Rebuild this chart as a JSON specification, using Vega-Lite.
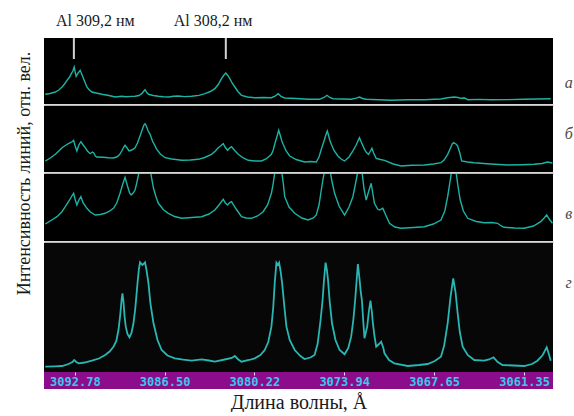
{
  "$schema": "https://vega.github.io/schema/vega-lite/v6.json",
  "background": "white",
  "padding": {"left": 14, "top": 12, "right": 0, "bottom": 0},
  "spacing": 2,
  "bounds": "flush",
  "config": {
    "view": {"stroke": null},
    "axis": {"grid": false},
    "concat": {"spacing": 2}
  },
  "datasets": {
    "a": [
      {"wl":3094.85,"i":9.7},{"wl":3094.6,"i":10.2},{"wl":3094.4,"i":11},{"wl":3094.15,"i":12},{"wl":3093.9,"i":14},{"wl":3093.68,"i":17},{"wl":3093.5,"i":20},{"wl":3093.33,"i":23.7},{"wl":3093.15,"i":27},{"wl":3093.03,"i":30.3},{"wl":3092.92,"i":33},{"wl":3092.83,"i":37},{"wl":3092.76,"i":32},{"wl":3092.69,"i":27.7},{"wl":3092.55,"i":31},{"wl":3092.41,"i":33.7},{"wl":3092.3,"i":30},{"wl":3092.17,"i":25.3},{"wl":3092.05,"i":21},{"wl":3091.94,"i":17},{"wl":3091.8,"i":14.5},{"wl":3091.59,"i":12},{"wl":3091.3,"i":11},{"wl":3090.89,"i":9.7},{"wl":3090.4,"i":8.5},{"wl":3089.96,"i":7},{"wl":3089.5,"i":7.8},{"wl":3089.2,"i":7.2},{"wl":3088.8,"i":7.6},{"wl":3088.57,"i":7.7},{"wl":3088.3,"i":8.5},{"wl":3088.1,"i":10.3},{"wl":3087.95,"i":13},{"wl":3087.87,"i":14.3},{"wl":3087.75,"i":11.5},{"wl":3087.63,"i":9.7},{"wl":3087.3,"i":8.5},{"wl":3086.94,"i":7.7},{"wl":3086.6,"i":7.2},{"wl":3086.2,"i":7},{"wl":3085.9,"i":7.8},{"wl":3085.54,"i":8},{"wl":3085.1,"i":7.4},{"wl":3084.61,"i":7.7},{"wl":3084.1,"i":8.6},{"wl":3083.68,"i":10.3},{"wl":3083.3,"i":12.5},{"wl":3082.99,"i":15.3},{"wl":3082.75,"i":19.5},{"wl":3082.52,"i":25.3},{"wl":3082.35,"i":29},{"wl":3082.22,"i":31},{"wl":3082.08,"i":28.5},{"wl":3081.94,"i":25.3},{"wl":3081.78,"i":21},{"wl":3081.59,"i":17},{"wl":3081.35,"i":12},{"wl":3081.12,"i":8.7},{"wl":3080.7,"i":7},{"wl":3080.19,"i":6.3},{"wl":3079.6,"i":6.5},{"wl":3079.03,"i":6.3},{"wl":3078.75,"i":8},{"wl":3078.56,"i":10.3},{"wl":3078.35,"i":7.5},{"wl":3078.1,"i":6},{"wl":3077.3,"i":5.5},{"wl":3076.47,"i":4.7},{"wl":3075.66,"i":4.7},{"wl":3075.35,"i":6.5},{"wl":3075.14,"i":8.7},{"wl":3074.95,"i":6.5},{"wl":3074.72,"i":5.3},{"wl":3074.1,"i":5},{"wl":3073.45,"i":4.7},{"wl":3073.1,"i":5.8},{"wl":3072.87,"i":7},{"wl":3072.65,"i":5.5},{"wl":3072.4,"i":4.7},{"wl":3071.5,"i":4.2},{"wl":3070.66,"i":3.7},{"wl":3069.5,"i":4.2},{"wl":3068.33,"i":4.3},{"wl":3067.6,"i":4.8},{"wl":3067.17,"i":5},{"wl":3066.7,"i":6.2},{"wl":3066.24,"i":7},{"wl":3065.97,"i":6.5},{"wl":3065.77,"i":5.7},{"wl":3065.5,"i":6},{"wl":3065.3,"i":4.3},{"wl":3064.5,"i":4.6},{"wl":3063.68,"i":4.3},{"wl":3062.5,"i":4.4},{"wl":3061.35,"i":4.7},{"wl":3060.4,"i":5},{"wl":3059.49,"i":5.3}
    ],
    "b": [
      {"wl":3094.85,"i":11},{"wl":3094.5,"i":14},{"wl":3094.15,"i":17.7},{"wl":3093.9,"i":21},{"wl":3093.68,"i":24.3},{"wl":3093.4,"i":27},{"wl":3093.1,"i":29.3},{"wl":3092.95,"i":30.5},{"wl":3092.87,"i":31.7},{"wl":3092.76,"i":26},{"wl":3092.64,"i":21},{"wl":3092.5,"i":27},{"wl":3092.36,"i":30.3},{"wl":3092.2,"i":27},{"wl":3092.06,"i":24.3},{"wl":3091.9,"i":21},{"wl":3091.71,"i":18.3},{"wl":3091.55,"i":20},{"wl":3091.47,"i":19.3},{"wl":3091.35,"i":16},{"wl":3091.24,"i":15},{"wl":3090.8,"i":14.8},{"wl":3090.42,"i":14.3},{"wl":3090.1,"i":14},{"wl":3089.85,"i":15},{"wl":3089.65,"i":17.5},{"wl":3089.5,"i":21},{"wl":3089.38,"i":24.5},{"wl":3089.27,"i":26.7},{"wl":3089.13,"i":24},{"wl":3088.99,"i":21},{"wl":3088.8,"i":22},{"wl":3088.57,"i":24.3},{"wl":3088.4,"i":29},{"wl":3088.22,"i":36},{"wl":3088.05,"i":43},{"wl":3087.95,"i":47},{"wl":3087.87,"i":48.3},{"wl":3087.78,"i":46},{"wl":3087.65,"i":41},{"wl":3087.52,"i":37.7},{"wl":3087.35,"i":31},{"wl":3087.05,"i":22.7},{"wl":3086.8,"i":18},{"wl":3086.47,"i":14.3},{"wl":3086.0,"i":13},{"wl":3085.31,"i":11.7},{"wl":3084.7,"i":12},{"wl":3084.14,"i":12.7},{"wl":3083.7,"i":14.5},{"wl":3083.22,"i":17.7},{"wl":3082.95,"i":21},{"wl":3082.75,"i":24.3},{"wl":3082.55,"i":26.5},{"wl":3082.4,"i":28.3},{"wl":3082.25,"i":24.5},{"wl":3082.1,"i":21.7},{"wl":3081.95,"i":24},{"wl":3081.82,"i":25.3},{"wl":3081.6,"i":21.5},{"wl":3081.35,"i":17.7},{"wl":3081.0,"i":14},{"wl":3080.65,"i":11.7},{"wl":3080.2,"i":11},{"wl":3079.73,"i":11},{"wl":3079.4,"i":13},{"wl":3079.2,"i":15.5},{"wl":3079.03,"i":17.7},{"wl":3078.9,"i":22},{"wl":3078.8,"i":27.7},{"wl":3078.65,"i":35},{"wl":3078.52,"i":41.7},{"wl":3078.4,"i":36},{"wl":3078.3,"i":31},{"wl":3078.21,"i":27.7},{"wl":3078.0,"i":21},{"wl":3077.75,"i":16},{"wl":3077.3,"i":12.5},{"wl":3076.71,"i":10},{"wl":3076.3,"i":10.5},{"wl":3075.89,"i":10},{"wl":3075.7,"i":15},{"wl":3075.54,"i":22.7},{"wl":3075.35,"i":31},{"wl":3075.2,"i":38},{"wl":3075.12,"i":41},{"wl":3075.02,"i":36},{"wl":3074.95,"i":32},{"wl":3074.84,"i":27.7},{"wl":3074.65,"i":21.5},{"wl":3074.38,"i":16},{"wl":3074.15,"i":13},{"wl":3073.91,"i":11},{"wl":3073.6,"i":15},{"wl":3073.33,"i":21},{"wl":3073.1,"i":27},{"wl":3072.95,"i":32},{"wl":3072.87,"i":34.3},{"wl":3072.75,"i":30},{"wl":3072.62,"i":26},{"wl":3072.52,"i":22.7},{"wl":3072.38,"i":19.5},{"wl":3072.24,"i":17.7},{"wl":3072.1,"i":21},{"wl":3072.0,"i":23.7},{"wl":3071.88,"i":19},{"wl":3071.7,"i":13.7},{"wl":3071.4,"i":12.5},{"wl":3071.12,"i":11.7},{"wl":3070.5,"i":8},{"wl":3069.96,"i":6},{"wl":3069.2,"i":6.8},{"wl":3068.33,"i":7},{"wl":3067.7,"i":8},{"wl":3067.17,"i":9.3},{"wl":3066.95,"i":12},{"wl":3066.7,"i":17.7},{"wl":3066.5,"i":24},{"wl":3066.38,"i":28},{"wl":3066.28,"i":29.3},{"wl":3066.12,"i":28},{"wl":3066.0,"i":26},{"wl":3065.85,"i":19},{"wl":3065.72,"i":11},{"wl":3065.3,"i":10},{"wl":3064.84,"i":9.3},{"wl":3063.7,"i":8},{"wl":3062.51,"i":7},{"wl":3061.5,"i":7.3},{"wl":3060.66,"i":7.7},{"wl":3060.1,"i":8.5},{"wl":3059.72,"i":10},{"wl":3059.37,"i":9}
    ],
    "v": [
      {"wl":3094.85,"i":17},{"wl":3094.4,"i":21},{"wl":3094.03,"i":24.3},{"wl":3093.7,"i":29},{"wl":3093.45,"i":34.3},{"wl":3093.15,"i":41},{"wl":3092.95,"i":46},{"wl":3092.87,"i":47.7},{"wl":3092.75,"i":41},{"wl":3092.64,"i":36},{"wl":3092.5,"i":41},{"wl":3092.36,"i":44.3},{"wl":3092.2,"i":38},{"wl":3091.94,"i":32.7},{"wl":3091.7,"i":29},{"wl":3091.36,"i":26},{"wl":3091.0,"i":26.5},{"wl":3090.66,"i":27.7},{"wl":3090.4,"i":29.5},{"wl":3090.08,"i":32.7},{"wl":3089.85,"i":38},{"wl":3089.62,"i":47.7},{"wl":3089.45,"i":56},{"wl":3089.27,"i":63.7},{"wl":3089.1,"i":55},{"wl":3088.95,"i":48},{"wl":3088.85,"i":46},{"wl":3088.7,"i":48},{"wl":3088.57,"i":51},{"wl":3088.45,"i":58},{"wl":3088.33,"i":66},{"wl":3088.2,"i":80},{"wl":3087.87,"i":95},{"wl":3087.6,"i":80},{"wl":3087.45,"i":66},{"wl":3087.28,"i":52.7},{"wl":3087.1,"i":44},{"wl":3086.94,"i":37.7},{"wl":3086.6,"i":31.5},{"wl":3086.24,"i":27.7},{"wl":3085.8,"i":24.5},{"wl":3085.31,"i":22.7},{"wl":3084.6,"i":23.5},{"wl":3083.91,"i":24.3},{"wl":3083.4,"i":27},{"wl":3082.99,"i":31},{"wl":3082.7,"i":36},{"wl":3082.4,"i":41.7},{"wl":3082.25,"i":38},{"wl":3082.1,"i":36},{"wl":3081.95,"i":38.5},{"wl":3081.82,"i":39.3},{"wl":3081.5,"i":32},{"wl":3081.12,"i":24.3},{"wl":3080.8,"i":23},{"wl":3080.43,"i":22.7},{"wl":3080.0,"i":25},{"wl":3079.61,"i":29.3},{"wl":3079.3,"i":36},{"wl":3079.03,"i":47.7},{"wl":3078.9,"i":58},{"wl":3078.8,"i":68},{"wl":3078.52,"i":90},{"wl":3078.3,"i":68},{"wl":3078.2,"i":58},{"wl":3078.1,"i":44.3},{"wl":3077.8,"i":34},{"wl":3077.4,"i":27.7},{"wl":3076.9,"i":23},{"wl":3076.47,"i":21},{"wl":3076.1,"i":23},{"wl":3075.89,"i":26},{"wl":3075.7,"i":36},{"wl":3075.54,"i":51},{"wl":3075.42,"i":62},{"wl":3075.31,"i":70},{"wl":3075.12,"i":90},{"wl":3074.92,"i":70},{"wl":3074.8,"i":60},{"wl":3074.61,"i":47.7},{"wl":3074.3,"i":35},{"wl":3073.91,"i":26},{"wl":3073.6,"i":34},{"wl":3073.33,"i":44.3},{"wl":3073.15,"i":57},{"wl":3072.98,"i":70},{"wl":3072.85,"i":85},{"wl":3072.7,"i":70},{"wl":3072.55,"i":52},{"wl":3072.4,"i":41},{"wl":3072.22,"i":50},{"wl":3072.05,"i":57.7},{"wl":3071.93,"i":47},{"wl":3071.82,"i":37.7},{"wl":3071.6,"i":32},{"wl":3071.47,"i":31},{"wl":3071.24,"i":32.7},{"wl":3071.0,"i":25},{"wl":3070.77,"i":17.7},{"wl":3070.4,"i":14},{"wl":3069.96,"i":12.7},{"wl":3069.1,"i":13.5},{"wl":3068.33,"i":14.3},{"wl":3067.7,"i":17},{"wl":3067.17,"i":21},{"wl":3066.9,"i":30},{"wl":3066.7,"i":44.3},{"wl":3066.55,"i":58},{"wl":3066.42,"i":70},{"wl":3066.28,"i":85},{"wl":3066.12,"i":70},{"wl":3065.98,"i":55},{"wl":3065.82,"i":41},{"wl":3065.6,"i":30},{"wl":3065.3,"i":22.7},{"wl":3064.7,"i":19.5},{"wl":3064.15,"i":18.3},{"wl":3063.6,"i":18.5},{"wl":3063.21,"i":17.7},{"wl":3062.95,"i":15},{"wl":3062.75,"i":13.7},{"wl":3062.0,"i":13},{"wl":3061.35,"i":12.7},{"wl":3060.7,"i":15},{"wl":3060.19,"i":19.3},{"wl":3059.95,"i":23},{"wl":3059.77,"i":26},{"wl":3059.6,"i":22},{"wl":3059.37,"i":17.7}
    ],
    "g": [
      {"wl":3094.85,"i":5.3},{"wl":3094.2,"i":5.6},{"wl":3093.68,"i":6},{"wl":3093.22,"i":8},{"wl":3092.95,"i":10},{"wl":3092.83,"i":12},{"wl":3092.68,"i":10},{"wl":3092.52,"i":8.7},{"wl":3092.1,"i":9.5},{"wl":3091.59,"i":11.3},{"wl":3091.1,"i":13.5},{"wl":3090.66,"i":17},{"wl":3090.35,"i":20.5},{"wl":3090.08,"i":25.3},{"wl":3089.88,"i":31},{"wl":3089.73,"i":42},{"wl":3089.6,"i":58},{"wl":3089.5,"i":74},{"wl":3089.45,"i":78.7},{"wl":3089.38,"i":70},{"wl":3089.3,"i":55},{"wl":3089.22,"i":45.3},{"wl":3089.1,"i":38},{"wl":3088.96,"i":34.7},{"wl":3088.82,"i":39},{"wl":3088.68,"i":48.7},{"wl":3088.55,"i":64},{"wl":3088.4,"i":88.7},{"wl":3088.3,"i":103},{"wl":3088.22,"i":109.7},{"wl":3088.05,"i":107},{"wl":3087.87,"i":109.7},{"wl":3087.77,"i":102},{"wl":3087.63,"i":88.7},{"wl":3087.5,"i":69},{"wl":3087.28,"i":48.7},{"wl":3087.0,"i":32},{"wl":3086.71,"i":22},{"wl":3086.3,"i":16.5},{"wl":3085.78,"i":13.7},{"wl":3085.2,"i":12.3},{"wl":3084.61,"i":11.3},{"wl":3083.91,"i":12.7},{"wl":3083.4,"i":11.5},{"wl":3082.99,"i":10.3},{"wl":3082.3,"i":12.5},{"wl":3081.8,"i":14},{"wl":3081.59,"i":16},{"wl":3081.35,"i":12.5},{"wl":3081.12,"i":10.3},{"wl":3080.6,"i":12},{"wl":3080.19,"i":13.7},{"wl":3079.8,"i":17},{"wl":3079.5,"i":22},{"wl":3079.25,"i":30},{"wl":3079.03,"i":45.3},{"wl":3078.9,"i":65},{"wl":3078.8,"i":88.7},{"wl":3078.68,"i":109.3},{"wl":3078.58,"i":107},{"wl":3078.49,"i":109.3},{"wl":3078.38,"i":100},{"wl":3078.28,"i":88.7},{"wl":3078.1,"i":62},{"wl":3077.98,"i":45.3},{"wl":3077.75,"i":32},{"wl":3077.4,"i":22},{"wl":3077.0,"i":16},{"wl":3076.71,"i":13},{"wl":3076.3,"i":14.5},{"wl":3076.01,"i":17},{"wl":3075.8,"i":28},{"wl":3075.59,"i":52},{"wl":3075.45,"i":72},{"wl":3075.35,"i":92},{"wl":3075.24,"i":109.3},{"wl":3075.15,"i":102},{"wl":3075.07,"i":92},{"wl":3074.95,"i":70},{"wl":3074.79,"i":48.7},{"wl":3074.55,"i":32},{"wl":3074.26,"i":22},{"wl":3073.91,"i":17.7},{"wl":3073.65,"i":24},{"wl":3073.45,"i":35.3},{"wl":3073.3,"i":52},{"wl":3073.17,"i":72},{"wl":3073.05,"i":95},{"wl":3072.98,"i":108},{"wl":3072.88,"i":95},{"wl":3072.78,"i":80},{"wl":3072.7,"i":72},{"wl":3072.6,"i":50},{"wl":3072.52,"i":33.7},{"wl":3072.45,"i":38},{"wl":3072.33,"i":45.3},{"wl":3072.2,"i":62},{"wl":3072.1,"i":71.3},{"wl":3072.0,"i":60},{"wl":3071.93,"i":48.7},{"wl":3071.82,"i":36},{"wl":3071.7,"i":25.3},{"wl":3071.5,"i":28},{"wl":3071.35,"i":30.3},{"wl":3071.2,"i":24},{"wl":3071.12,"i":18.7},{"wl":3070.8,"i":12},{"wl":3070.43,"i":8.7},{"wl":3069.49,"i":6},{"wl":3068.7,"i":7},{"wl":3068.1,"i":8},{"wl":3067.6,"i":11},{"wl":3067.17,"i":15.3},{"wl":3066.95,"i":26},{"wl":3066.7,"i":48.7},{"wl":3066.5,"i":75},{"wl":3066.31,"i":93.7},{"wl":3066.15,"i":80},{"wl":3066.0,"i":58.7},{"wl":3065.85,"i":40},{"wl":3065.65,"i":25.3},{"wl":3065.3,"i":17},{"wl":3064.84,"i":12},{"wl":3064.15,"i":11.3},{"wl":3063.8,"i":12.5},{"wl":3063.49,"i":14.7},{"wl":3063.2,"i":10},{"wl":3062.86,"i":7},{"wl":3062.1,"i":6.5},{"wl":3061.35,"i":6},{"wl":3060.8,"i":8},{"wl":3060.42,"i":11.3},{"wl":3060.05,"i":17},{"wl":3059.77,"i":24.7},{"wl":3059.6,"i":17},{"wl":3059.49,"i":11.3}
    ],
    "alLines": [
      {"wl":3092.85,"y1":66,"y2":45},
      {"wl":3082.22,"y1":66,"y2":45}
    ],
    "alLabels": [
      {"wl":3094.1,"i":78,"label":"Al 309,2 нм"},
      {"wl":3085.87,"i":78,"label":"Al 308,2 нм"}
    ],
    "ticks": [
      {"wl":3092.78},{"wl":3086.50},{"wl":3080.22},{"wl":3073.94},{"wl":3067.65},{"wl":3061.35}
    ]
  },
  "vconcat": [
    {
      "width": 509,
      "height": 66,
      "view": {"fill": "#000000", "stroke": null},
      "encoding": {
        "x": {"field": "wl", "type": "quantitative",
          "scale": {"domain": [3059.33, 3094.94], "reverse": true, "nice": false, "zero": false},
          "axis": {"orient": "bottom", "labels": false, "ticks": false, "title": null, "domainColor": "#b4b4b4", "domainWidth": 2, "offset": 1}}
      },
      "layer": [
        {"data": {"name": "a"},
         "mark": {"type": "line", "color": "#1db3a4", "strokeWidth": 1.4, "clip": true},
         "encoding": {"y": {"field": "i", "type": "quantitative", "scale": {"domain": [0, 66], "nice": false}, "axis": null}}},
        {"data": {"name": "alLines"},
         "mark": {"type": "rule", "color": "#d2d2d2", "strokeWidth": 2},
         "encoding": {"y": {"field": "y1", "type": "quantitative"}, "y2": {"field": "y2"}}},
        {"data": {"name": "alLabels"},
         "mark": {"type": "text", "font": "Liberation Serif", "fontSize": 16, "align": "left", "baseline": "alphabetic", "color": "#1a1a1a"},
         "encoding": {"y": {"field": "i", "type": "quantitative"}, "text": {"field": "label"}}},
        {"data": {"values": [{"wl": 3058.23, "i": 21, "label": "а"}]},
         "mark": {"type": "text", "font": "Liberation Serif", "fontStyle": "italic", "fontSize": 16, "align": "center", "baseline": "middle", "color": "#4a4a4a"},
         "encoding": {"y": {"field": "i", "type": "quantitative"}, "text": {"field": "label"}}}
      ]
    },
    {
      "width": 509,
      "height": 66,
      "view": {"fill": "#000000", "stroke": null},
      "encoding": {
        "x": {"field": "wl", "type": "quantitative",
          "scale": {"domain": [3059.33, 3094.94], "reverse": true, "nice": false, "zero": false},
          "axis": {"orient": "bottom", "labels": false, "ticks": false, "title": null, "domainColor": "#b4b4b4", "domainWidth": 2, "offset": 1}}
      },
      "layer": [
        {"data": {"name": "b"},
         "mark": {"type": "line", "color": "#1db3a4", "strokeWidth": 1.4, "clip": true},
         "encoding": {"y": {"field": "i", "type": "quantitative", "scale": {"domain": [0, 66], "nice": false},
           "axis": {"title": "Интенсивность линий, отн. вел.", "labels": false, "ticks": false, "domain": false,
             "titleFont": "Liberation Serif", "titleFontSize": 18, "titleFontWeight": "normal", "titleColor": "#1a1a1a",
             "titlePadding": 11, "titleY": 67}}}},
        {"data": {"values": [{"wl": 3058.23, "i": 38, "label": "б"}]},
         "mark": {"type": "text", "font": "Liberation Serif", "fontStyle": "italic", "fontSize": 16, "align": "center", "baseline": "middle", "color": "#4a4a4a"},
         "encoding": {"y": {"field": "i", "type": "quantitative"}, "text": {"field": "label"}}}
      ]
    },
    {
      "width": 509,
      "height": 67,
      "view": {"fill": "#000000", "stroke": null},
      "encoding": {
        "x": {"field": "wl", "type": "quantitative",
          "scale": {"domain": [3059.33, 3094.94], "reverse": true, "nice": false, "zero": false},
          "axis": {"orient": "bottom", "labels": false, "ticks": false, "title": null, "domainColor": "#b4b4b4", "domainWidth": 2, "offset": 1}}
      },
      "layer": [
        {"data": {"name": "v"},
         "mark": {"type": "line", "color": "#1db3a4", "strokeWidth": 1.4, "clip": true},
         "encoding": {"y": {"field": "i", "type": "quantitative", "scale": {"domain": [0, 67], "nice": false}, "axis": null}}},
        {"data": {"values": [{"wl": 3058.23, "i": 27, "label": "в"}]},
         "mark": {"type": "text", "font": "Liberation Serif", "fontStyle": "italic", "fontSize": 16, "align": "center", "baseline": "middle", "color": "#4a4a4a"},
         "encoding": {"y": {"field": "i", "type": "quantitative"}, "text": {"field": "label"}}}
      ]
    },
    {
      "spacing": 0,
      "bounds": "flush",
      "vconcat": [
        {
          "width": 509,
          "height": 129,
          "view": {"fill": "#070707", "stroke": null},
          "encoding": {
            "x": {"field": "wl", "type": "quantitative",
              "scale": {"domain": [3059.33, 3094.94], "reverse": true, "nice": false, "zero": false},
              "axis": null}
          },
          "layer": [
            {"data": {"name": "g"},
             "mark": {"type": "line", "color": "#2ab6b2", "strokeWidth": 1.8, "clip": true},
             "encoding": {"y": {"field": "i", "type": "quantitative", "scale": {"domain": [0, 129], "nice": false}, "axis": null}}},
            {"data": {"values": [{"wl": 3058.23, "i": 89, "label": "г"}]},
             "mark": {"type": "text", "font": "Liberation Serif", "fontStyle": "italic", "fontSize": 16, "align": "center", "baseline": "middle", "color": "#4a4a4a"},
             "encoding": {"y": {"field": "i", "type": "quantitative"}, "text": {"field": "label"}}}
          ]
        },
        {
          "width": 509,
          "height": 17,
          "view": {"fill": "#8c0d8c", "stroke": null},
          "data": {"name": "ticks"},
          "mark": {"type": "point", "opacity": 0},
          "encoding": {
            "x": {"field": "wl", "type": "quantitative",
              "scale": {"domain": [3059.33, 3094.94], "reverse": true, "nice": false, "zero": false},
              "axis": {"orient": "bottom", "offset": -17, "values": [3092.78, 3086.50, 3080.22, 3073.94, 3067.65, 3061.35],
                "format": ".2f", "domain": false, "ticks": true, "tickSize": 3, "tickColor": "#e8e8e8", "tickWidth": 1,
                "labelFont": "DejaVu Sans Mono", "labelFontWeight": "bold", "labelFontSize": 12, "labelColor": "#3cc8ea",
                "labelPadding": 1, "labelBaseline": "top", "labelOverlap": false, "labelBound": false, "labelFlush": false,
                "title": "Длина волны, Å", "titleFont": "Liberation Serif", "titleFontSize": 20, "titleFontWeight": "normal",
                "titleColor": "#1a1a1a", "titlePadding": 5}}
          }
        }
      ]
    }
  ]
}
